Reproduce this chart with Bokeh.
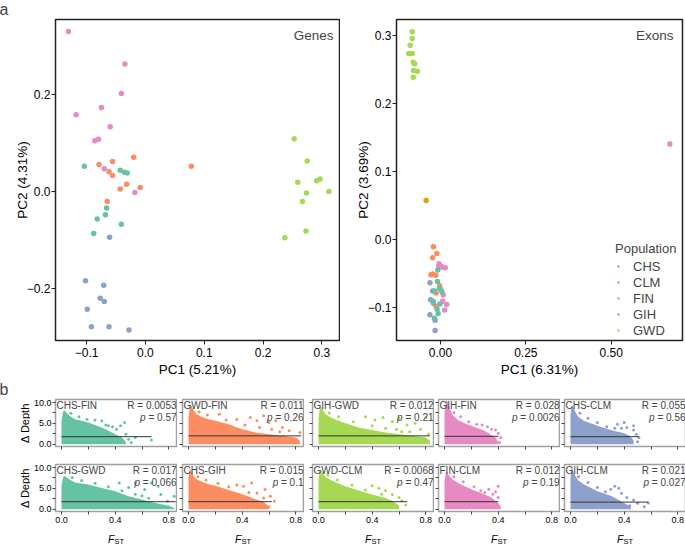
import math
from bokeh.plotting import figure
from bokeh.models import Range1d, FixedTicker, Label, Title
from bokeh.layouts import column, row
from bokeh.core.properties import value
from bokeh.embed import file_html
from bokeh.resources import INLINE

# ---------------- data: panel a (PCA) ----------------
populations = ["CHS", "CLM", "FIN", "GIH", "GWD"]

genes_CHS_pc1 = [-0.061, -0.102, -0.071, -0.077, -0.070, -0.099, -0.092, -0.062, -0.028]
genes_CHS_pc2 = [-0.095, -0.185, -0.194, -0.221, -0.228, -0.244, -0.280, -0.280, -0.287]
genes_CLM_pc1 = [-0.079, -0.056, -0.020, -0.062, -0.056, -0.032, -0.043, -0.009, -0.065, 0.078]
genes_CLM_pc2 = [0.056, 0.062, 0.071, 0.041, 0.033, 0.015, 0.005, 0.008, -0.021, 0.052]
genes_FIN_pc1 = [-0.131, -0.035, -0.041, -0.118, -0.075, -0.060, -0.086, -0.080, -0.070, -0.018]
genes_FIN_pc2 = [0.331, 0.264, 0.203, 0.159, 0.174, 0.134, 0.105, 0.108, 0.047, -0.002]
genes_GIH_pc1 = [-0.104, -0.043, -0.036, -0.031, -0.066, -0.082, -0.068, -0.041, -0.088]
genes_GIH_pc2 = [0.052, 0.044, 0.040, 0.038, -0.034, -0.057, -0.048, -0.068, -0.087]
genes_GWD_pc1 = [0.253, 0.275, 0.259, 0.291, 0.297, 0.274, 0.312, 0.267, 0.273, 0.237]
genes_GWD_pc2 = [0.109, 0.063, 0.019, 0.022, 0.026, -0.003, 0.000, -0.021, -0.082, -0.096]

exons_CHS_pc1 = [-0.031, -0.023, -0.029, -0.021, -0.031, -0.016, -0.016]
exons_CHS_pc2 = [-0.064, -0.076, -0.089, -0.094, -0.111, -0.119, -0.134]
exons_CLM_pc1 = [-0.021, -0.011, -0.023, -0.028, -0.022, -0.014, -0.003, 0.000, -0.013, -0.013]
exons_CLM_pc2 = [-0.011, -0.021, -0.027, -0.052, -0.051, -0.053, -0.068, -0.073, -0.079, -0.099]
exons_FIN_pc1 = [-0.004, -0.005, 0.003, 0.007, 0.014, 0.008, 0.006, 0.018, 0.012, 0.672]
exons_FIN_pc2 = [-0.036, -0.040, -0.040, -0.041, -0.042, -0.082, -0.091, -0.096, -0.104, 0.140]
exons_GIH_pc1 = [-0.008, -0.009, -0.003, 0.004, -0.018, -0.022, -0.002, -0.010, -0.007, -0.018]
exons_GIH_pc2 = [-0.045, -0.062, -0.072, -0.077, -0.076, -0.091, -0.095, -0.103, -0.109, -0.116]
exons_GWD_pc1 = [-0.083, -0.083, -0.089, -0.093, -0.083, -0.080, -0.076, -0.079, -0.068, -0.080]
exons_GWD_pc2 = [0.305, 0.295, 0.285, 0.273, 0.273, 0.260, 0.258, 0.248, 0.247, 0.238]
exons_other_pc1 = [-0.042]
exons_other_pc2 = [0.057]

genes_xticks = [-0.1, 0.0, 0.1, 0.2, 0.3]
genes_yticks = [-0.2, 0.0, 0.2]
exons_xticks = [0.0, 0.25, 0.5]
exons_yticks = [-0.1, 0.0, 0.1, 0.2, 0.3]

# ---------------- data: panel b (delta depth vs FST) ----------------
pair_names = ["CHS-FIN", "GWD-FIN", "GIH-GWD", "GIH-FIN", "CHS-CLM",
              "CHS-GWD", "CHS-GIH", "GWD-CLM", "FIN-CLM", "GIH-CLM"]
pair_r = ["0.0053", "0.011", "0.012", "0.028", "0.055",
          "0.017", "0.015", "0.0068", "0.012", "0.021"]
pair_p = ["0.57", "0.26", "0.21", "0.0026", "0.56",
          "0.066", "0.1", "0.47", "0.19", "0.027"]
fit_depth = [1.8, 2.0, 2.0, 1.9, 1.8, 1.8, 1.8, 1.8, 1.8, 1.7]
fit_fst_start = [0.0, 0.0, 0.0, 0.0, 0.0, 0.0, 0.0, 0.0, 0.0, 0.0]
fit_fst_end = [0.67, 0.84, 0.83, 0.40, 0.51, 0.85, 0.62, 0.66, 0.40, 0.58]

# upper edge of the dense cloud of points in each panel
cloud_fst = [
    [0, 0.01, 0.02, 0.04, 0.06, 0.1, 0.15, 0.2, 0.25, 0.3, 0.35, 0.4, 0.45, 0.48],
    [0, 0.01, 0.02, 0.04, 0.06, 0.1, 0.15, 0.2, 0.3, 0.4, 0.5, 0.6, 0.7, 0.8, 0.83],
    [0, 0.01, 0.02, 0.04, 0.06, 0.1, 0.15, 0.2, 0.3, 0.4, 0.5, 0.6, 0.7, 0.8, 0.83],
    [0, 0.01, 0.02, 0.04, 0.06, 0.1, 0.15, 0.2, 0.25, 0.3, 0.34, 0.38, 0.4],
    [0, 0.01, 0.02, 0.04, 0.06, 0.1, 0.15, 0.2, 0.3, 0.4, 0.44, 0.47],
    [0, 0.01, 0.02, 0.04, 0.06, 0.1, 0.2, 0.3, 0.4, 0.5, 0.6, 0.7, 0.8, 0.84],
    [0, 0.01, 0.02, 0.04, 0.06, 0.1, 0.15, 0.2, 0.3, 0.4, 0.5, 0.56, 0.6],
    [0, 0.01, 0.02, 0.04, 0.06, 0.1, 0.2, 0.3, 0.4, 0.5, 0.55, 0.6],
    [0, 0.01, 0.02, 0.04, 0.06, 0.1, 0.2, 0.3, 0.35, 0.4, 0.42],
    [0, 0.01, 0.02, 0.04, 0.06, 0.1, 0.2, 0.3, 0.35, 0.4, 0.45],
]
cloud_top = [
    [5.5, 7.6, 8.2, 7.4, 6.8, 6.0, 5.6, 5.2, 4.6, 4.0, 3.2, 2.4, 1.6, 0.6],
    [6.5, 8.8, 9.3, 8.0, 7.2, 6.5, 6.0, 5.6, 4.8, 3.6, 2.8, 2.4, 2.0, 1.6, 0.8],
    [6.0, 8.5, 9.0, 7.8, 7.0, 6.3, 5.6, 5.0, 4.0, 3.4, 2.8, 2.4, 2.0, 1.6, 0.8],
    [7.5, 10.2, 10.5, 8.5, 7.0, 5.8, 5.0, 4.4, 3.8, 3.2, 2.4, 1.6, 0.6],
    [7.0, 9.4, 9.0, 7.5, 6.5, 5.6, 5.0, 4.4, 3.4, 2.6, 2.0, 0.8],
    [5.5, 7.5, 8.0, 7.6, 7.1, 6.4, 5.9, 5.1, 4.3, 3.1, 2.3, 1.5, 0.8, 0.3],
    [7.5, 9.8, 9.2, 7.9, 7.2, 6.6, 6.0, 5.6, 4.6, 3.6, 2.4, 1.8, 0.6],
    [7.0, 9.5, 9.3, 8.2, 7.6, 6.8, 5.5, 4.5, 3.5, 2.7, 2.0, 0.8],
    [6.5, 9.0, 8.8, 7.8, 7.2, 6.3, 4.8, 3.5, 2.8, 1.5, 0.5],
    [7.5, 10.5, 9.0, 7.8, 6.8, 6.0, 4.3, 3.2, 2.4, 1.5, 0.5],
]
cloud_floor = 0.0

# sparse points outside the dense cloud
sparse_fst = [
    [0.25, 0.30, 0.33, 0.38, 0.41, 0.44, 0.47, 0.50, 0.52, 0.48, 0.67, 0.55, 0.07, 0.13, 0.19, 0.35],
    [0.23, 0.36, 0.46, 0.51, 0.56, 0.60, 0.65, 0.70, 0.75, 0.83, 0.78, 0.72, 0.80, 0.62,
     0.08, 0.14, 0.28, 0.42, 0.53, 0.68],
    [0.35, 0.42, 0.48, 0.55, 0.60, 0.66, 0.72, 0.76, 0.80, 0.82, 0.78, 0.70, 0.62,
     0.08, 0.15, 0.26, 0.40, 0.50, 0.58, 0.68],
    [0.28, 0.32, 0.35, 0.38, 0.40, 0.42, 0.36, 0.41, 0.07, 0.12, 0.18, 0.24],
    [0.35, 0.40, 0.42, 0.47, 0.47, 0.49, 0.51, 0.50, 0.45, 0.38, 0.07, 0.13, 0.20, 0.27, 0.33],
    [0.43, 0.50, 0.55, 0.62, 0.67, 0.72, 0.74, 0.79, 0.84, 0.80, 0.70, 0.60,
     0.08, 0.15, 0.25, 0.35, 0.45, 0.55, 0.65],
    [0.36, 0.41, 0.47, 0.51, 0.57, 0.61, 0.64, 0.56, 0.60, 0.53, 0.07, 0.13, 0.22, 0.30, 0.45],
    [0.40, 0.45, 0.50, 0.55, 0.60, 0.62, 0.65, 0.58, 0.52, 0.07, 0.14, 0.25, 0.35, 0.47],
    [0.30, 0.33, 0.36, 0.38, 0.40, 0.40, 0.39, 0.34, 0.07, 0.14, 0.22, 0.27],
    [0.30, 0.33, 0.36, 0.38, 0.42, 0.47, 0.50, 0.55, 0.58, 0.44, 0.06, 0.13, 0.20, 0.26],
]
sparse_depth = [
    [5.8, 5.6, 4.6, 4.2, 3.6, 4.4, 5.2, 1.2, 0.4, 2.4, 1.0, 1.6, 7.4, 6.6, 6.0, 4.4],
    [7.2, 6.0, 6.4, 5.6, 6.8, 5.2, 5.6, 4.0, 3.2, 2.8, 1.2, 0.6, 0.4, 3.6,
     7.8, 7.0, 5.8, 4.6, 4.0, 3.0],
    [6.6, 5.8, 6.4, 5.4, 6.2, 4.6, 5.0, 3.6, 6.4, 2.4, 1.0, 0.4, 3.0,
     7.5, 6.6, 5.4, 4.4, 3.8, 3.6, 3.0],
    [4.6, 4.2, 3.6, 3.4, 2.6, 1.6, 0.8, 0.4, 7.6, 6.6, 5.4, 4.8],
    [4.8, 5.2, 4.0, 4.4, 3.4, 2.4, 1.6, 0.6, 1.2, 3.8, 7.4, 6.2, 5.2, 4.2, 3.8],
    [6.3, 5.2, 6.3, 4.7, 6.3, 5.5, 3.5, 1.9, 3.1, 0.4, 0.8, 3.2,
     7.6, 6.9, 6.2, 5.4, 4.4, 3.6, 2.6],
    [5.8, 5.5, 6.3, 3.9, 4.7, 3.1, 1.9, 2.7, 0.6, 1.2, 7.8, 7.0, 6.2, 5.4, 4.0],
    [5.6, 5.0, 4.5, 3.5, 2.8, 2.0, 1.0, 0.4, 1.4, 8.2, 7.0, 5.8, 4.6, 3.6],
    [4.0, 4.8, 3.6, 4.2, 5.5, 2.8, 0.8, 1.2, 7.8, 6.6, 5.4, 4.4],
    [4.8, 5.5, 5.0, 3.8, 2.8, 2.2, 1.4, 0.6, 1.5, 0.8, 7.8, 6.4, 5.2, 4.2],
]
fst_major = [0.0, 0.4, 0.8]
fst_major_labels = ["0.0", "0.4", "0.8"]
fst_minor = [0.2, 0.6]
depth_major = [0.0, 5.0, 10.0]
depth_major_labels = ["0.0", "5.0", "10.0"]
depth_minor = [2.5, 7.5]
fst_title_main = "F"
fst_title_sub = "ST"
fst_title_at = 0.41
depth_title = "\u0394 Depth"

# ---------------- styles / layout ----------------
FONT = "Liberation Sans"
pop_colors = {"CHS": "#8DA0CB", "CLM": "#FC8D62", "FIN": "#E78AC3",
              "GIH": "#66C2A5", "GWD": "#A6D854"}
other_color = "#E69F00"
panel_pop = ["GIH", "CLM", "GWD", "FIN", "CHS", "GIH", "CLM", "GWD", "FIN", "CHS"]
TEXT_W = {" ": 278, "=": 584, ".": 278}
YLAB_W = 30
SM_LEFT = [23, 5, 8, 4, 4]
CAP_LEFT = [53, 5, 8, 4, 4]
SM_RIGHT = [1, 1, 1, 1, 1]
SM_W, SM_H = 121, 47
Y_LO, Y_HI = -0.55, 10.72


def fmt(v, nd):
    return f"{v:.{nd}f}".replace("-", "\u2212")


def base_axes(p, tick_size, label_size):
    for ax in (p.xaxis[0], p.yaxis[0]):
        ax.major_label_text_font = FONT
        ax.major_label_text_font_size = tick_size
        ax.major_label_text_color = "#000000"
        ax.axis_label_text_font = FONT
        ax.axis_label_text_font_size = label_size
        ax.axis_label_text_font_style = "normal"
        ax.axis_label_text_color = "#000000"
        ax.major_tick_in = 0
        ax.minor_tick_in = 0
        ax.axis_line_color = None
    p.xgrid.visible = False
    p.ygrid.visible = False


def panel_title(text, offset):
    return Title(text=text, align="left", offset=offset, standoff=0,
                 vertical_align="top", text_font=FONT, text_font_size="16px",
                 text_font_style="normal")


def pca_figure(bl, br, fw, xr, yr, xt, xnd, yt, ynd, xlabel, ylabel, title=None):
    p = figure(frame_width=fw, height=380, x_range=Range1d(*xr), y_range=Range1d(*yr),
               output_backend="svg", toolbar_location=None, title=title,
               min_border_left=bl, min_border_right=br, min_border_top=19,
               min_border_bottom=40)
    base_axes(p, "12px", "13.5px")
    p.outline_line_color = "#222222"
    p.outline_line_width = 1.5
    p.xaxis.ticker = FixedTicker(ticks=xt)
    p.xaxis.major_label_overrides = {t: fmt(t, xnd) for t in xt}
    p.yaxis.ticker = FixedTicker(ticks=yt)
    p.yaxis.major_label_overrides = {t: fmt(t, ynd) for t in yt}
    for ax in (p.xaxis[0], p.yaxis[0]):
        ax.major_tick_out = 4
        ax.major_tick_line_color = "#222222"
        ax.minor_tick_line_color = None
    p.xaxis.major_label_standoff = 3
    p.xaxis.axis_label_standoff = 2
    p.yaxis.major_label_standoff = 1
    p.yaxis.axis_label_standoff = -6
    p.xaxis.axis_label = xlabel
    p.yaxis.axis_label = ylabel
    return p


# ---- Genes ----
pa = pca_figure(55, 1, 284, (-0.153, 0.330), (-0.3085, 0.356), genes_xticks, 1, genes_yticks, 1,
                "PC1 (5.21%)", "PC2 (4.31%)", title=panel_title("a", -56))
genes = {
    "CHS": (genes_CHS_pc1, genes_CHS_pc2), "CLM": (genes_CLM_pc1, genes_CLM_pc2),
    "FIN": (genes_FIN_pc1, genes_FIN_pc2), "GIH": (genes_GIH_pc1, genes_GIH_pc2),
    "GWD": (genes_GWD_pc1, genes_GWD_pc2),
}
for pop in populations:
    xs, ys = genes[pop]
    pa.scatter(x=xs, y=ys, size=5.5, fill_color=pop_colors[pop], line_color=None)
pa.add_layout(Label(x=278, y=305, x_units="screen", y_units="screen", text="Genes",
                    text_font=FONT, text_font_size="13.5px", text_align="right",
                    text_baseline="alphabetic"))

# ---- Exons ----
pb = pca_figure(56, 3, 286, (-0.129, 0.709), (-0.1488, 0.323), exons_xticks, 2, exons_yticks, 1,
                "PC1 (6.31%)", "PC2 (3.69%)")
exons = {
    "CHS": (exons_CHS_pc1, exons_CHS_pc2), "CLM": (exons_CLM_pc1, exons_CLM_pc2),
    "FIN": (exons_FIN_pc1, exons_FIN_pc2), "GIH": (exons_GIH_pc1, exons_GIH_pc2),
    "GWD": (exons_GWD_pc1, exons_GWD_pc2),
}
for pop in populations:
    xs, ys = exons[pop]
    pb.scatter(x=xs, y=ys, size=5.5, fill_color=pop_colors[pop], line_color=None,
               legend_label=pop)
pb.scatter(x=exons_other_pc1, y=exons_other_pc2, size=5.5, fill_color=other_color, line_color=None)
pb.add_layout(Label(x=277, y=305, x_units="screen", y_units="screen", text="Exons",
                    text_font=FONT, text_font_size="13.5px", text_align="right",
                    text_baseline="alphabetic"))
lg = pb.legend[0]
lg.title = "Population"
lg.title_text_font = FONT
lg.title_text_font_size = "13px"
lg.title_text_font_style = "normal"
lg.title_standoff = 2
lg.label_text_font = FONT
lg.label_text_font_size = "13px"
lg.label_height = 16
lg.glyph_height = 16
lg.glyph_width = 6
lg.label_standoff = 12
lg.spacing = 0
lg.padding = 2
lg.margin = 0
lg.border_line_color = None
lg.background_fill_alpha = 0
lg.location = (219, 2)

# ---- panel b ----
rows_b = [[], []]
captions = []
for r in range(2):
    top = 19 if r == 0 else 9
    bottom = 9 if r == 0 else 16
    # strip holding the shared y-axis title of the row
    yl = figure(width=YLAB_W, height=top + SM_H + bottom,
                x_range=Range1d(0, YLAB_W), y_range=Range1d(Y_LO, Y_HI),
                output_backend="svg", toolbar_location=None,
                title=panel_title("b", -1) if r == 0 else None,
                x_axis_location=None, y_axis_location=None,
                min_border_left=0, min_border_right=0, min_border_top=top,
                min_border_bottom=bottom)
    yl.outline_line_color = None
    yl.grid.visible = False
    yl.text(x=[YLAB_W - 6], y=[(Y_LO + Y_HI) / 2], text=[depth_title], angle=math.pi / 2,
            text_font=value(FONT), text_font_size="11px", text_align="center",
            text_baseline="middle", text_color="#000000")
    rows_b[r].append(yl)

for i in range(10):
    r, c = divmod(i, 5)
    left = SM_LEFT[c]
    top = 19 if r == 0 else 9
    bottom = 9 if r == 0 else 16
    col = pop_colors[panel_pop[i]]
    p = figure(frame_width=SM_W, height=top + SM_H + bottom,
               x_range=Range1d(-0.0447, 0.857), y_range=Range1d(Y_LO, Y_HI),
               output_backend="svg", toolbar_location=None, title=None,
               min_border_left=left, min_border_right=SM_RIGHT[c], min_border_top=top,
               min_border_bottom=bottom)
    base_axes(p, "9px", "11.5px")
    p.outline_line_color = "#a0a0a0"
    p.outline_line_width = 1.5
    if r == 1:
        p.xaxis.ticker = FixedTicker(ticks=fst_major, minor_ticks=fst_minor)
        p.xaxis.major_label_overrides = dict(zip(fst_major, fst_major_labels))
        p.xaxis.major_label_standoff = 2
    else:
        p.xaxis.ticker = FixedTicker(ticks=[], minor_ticks=fst_major + fst_minor)
        p.xaxis.major_label_standoff = 0
    if c == 0:
        p.yaxis.ticker = FixedTicker(ticks=depth_major, minor_ticks=depth_minor)
        p.yaxis.major_label_overrides = dict(zip(depth_major, depth_major_labels))
        p.yaxis.major_label_standoff = 1
    else:
        p.yaxis.ticker = FixedTicker(ticks=[], minor_ticks=depth_major + depth_minor)
        p.yaxis.major_label_standoff = 0
    for ax in (p.xaxis[0], p.yaxis[0]):
        ax.major_tick_out = 3
        ax.minor_tick_out = 3
        ax.major_tick_line_color = "#444444"
        ax.minor_tick_line_color = "#444444"

    p.varea(x=cloud_fst[i], y1=cloud_floor, y2=cloud_top[i], fill_color=col, fill_alpha=1.0)
    p.scatter(x=sparse_fst[i], y=sparse_depth[i], size=3, fill_color=col, line_color=None)
    p.line(x=[fit_fst_start[i], fit_fst_end[i]], y=[fit_depth[i], fit_depth[i]],
           line_color="#333333", line_width=1)

    p.add_layout(Label(x=1, y=SM_H, x_units="screen", y_units="screen", text=pair_names[i],
                       text_font=FONT, text_font_size="10px", text_align="left",
                       text_baseline="top"))
    p.add_layout(Label(x=SM_W, y=SM_H, x_units="screen", y_units="screen",
                       text="R = " + pair_r[i], text_font=FONT, text_font_size="10px",
                       text_align="right", text_baseline="top"))
    rest = "= " + pair_p[i]
    w = (sum(TEXT_W.get(ch, 556) for ch in rest) + TEXT_W[" "]) * 10 / 1000.0
    p.add_layout(Label(x=SM_W, y=SM_H - 12, x_units="screen", y_units="screen", text=rest,
                       text_font=FONT, text_font_size="10px", text_align="right",
                       text_baseline="top"))
    p.add_layout(Label(x=SM_W - w, y=SM_H - 12, x_units="screen", y_units="screen", text="p",
                       text_font=FONT, text_font_size="10px", text_align="right",
                       text_font_style="italic", text_baseline="top"))
    rows_b[r].append(p)

    if r == 1:
        cp = figure(frame_width=SM_W, height=17,
                    x_range=Range1d(-0.0447, 0.857), y_range=Range1d(0, 17),
                    output_backend="svg", toolbar_location=None, title=None,
                    x_axis_location=None, y_axis_location=None,
                    min_border_left=CAP_LEFT[c], min_border_right=SM_RIGHT[c], min_border_top=0,
                    min_border_bottom=0)
        cp.outline_line_color = None
        cp.grid.visible = False
        cp.text(x=[fst_title_at], y=[6], text=[fst_title_main], text_font=value(FONT),
                text_font_size="10.5px", text_font_style="italic", text_align="right",
                text_baseline="alphabetic", text_color="#000000")
        cp.text(x=[fst_title_at], y=[3.5], text=[fst_title_sub], text_font=value(FONT),
                text_font_size="7.5px", text_align="left", text_baseline="alphabetic",
                text_color="#000000")
        captions.append(cp)

layout = column(row(pa, pb), row(*rows_b[0]), row(*rows_b[1]), row(*captions))
open("out.html", "w").write(file_html(layout, INLINE))
